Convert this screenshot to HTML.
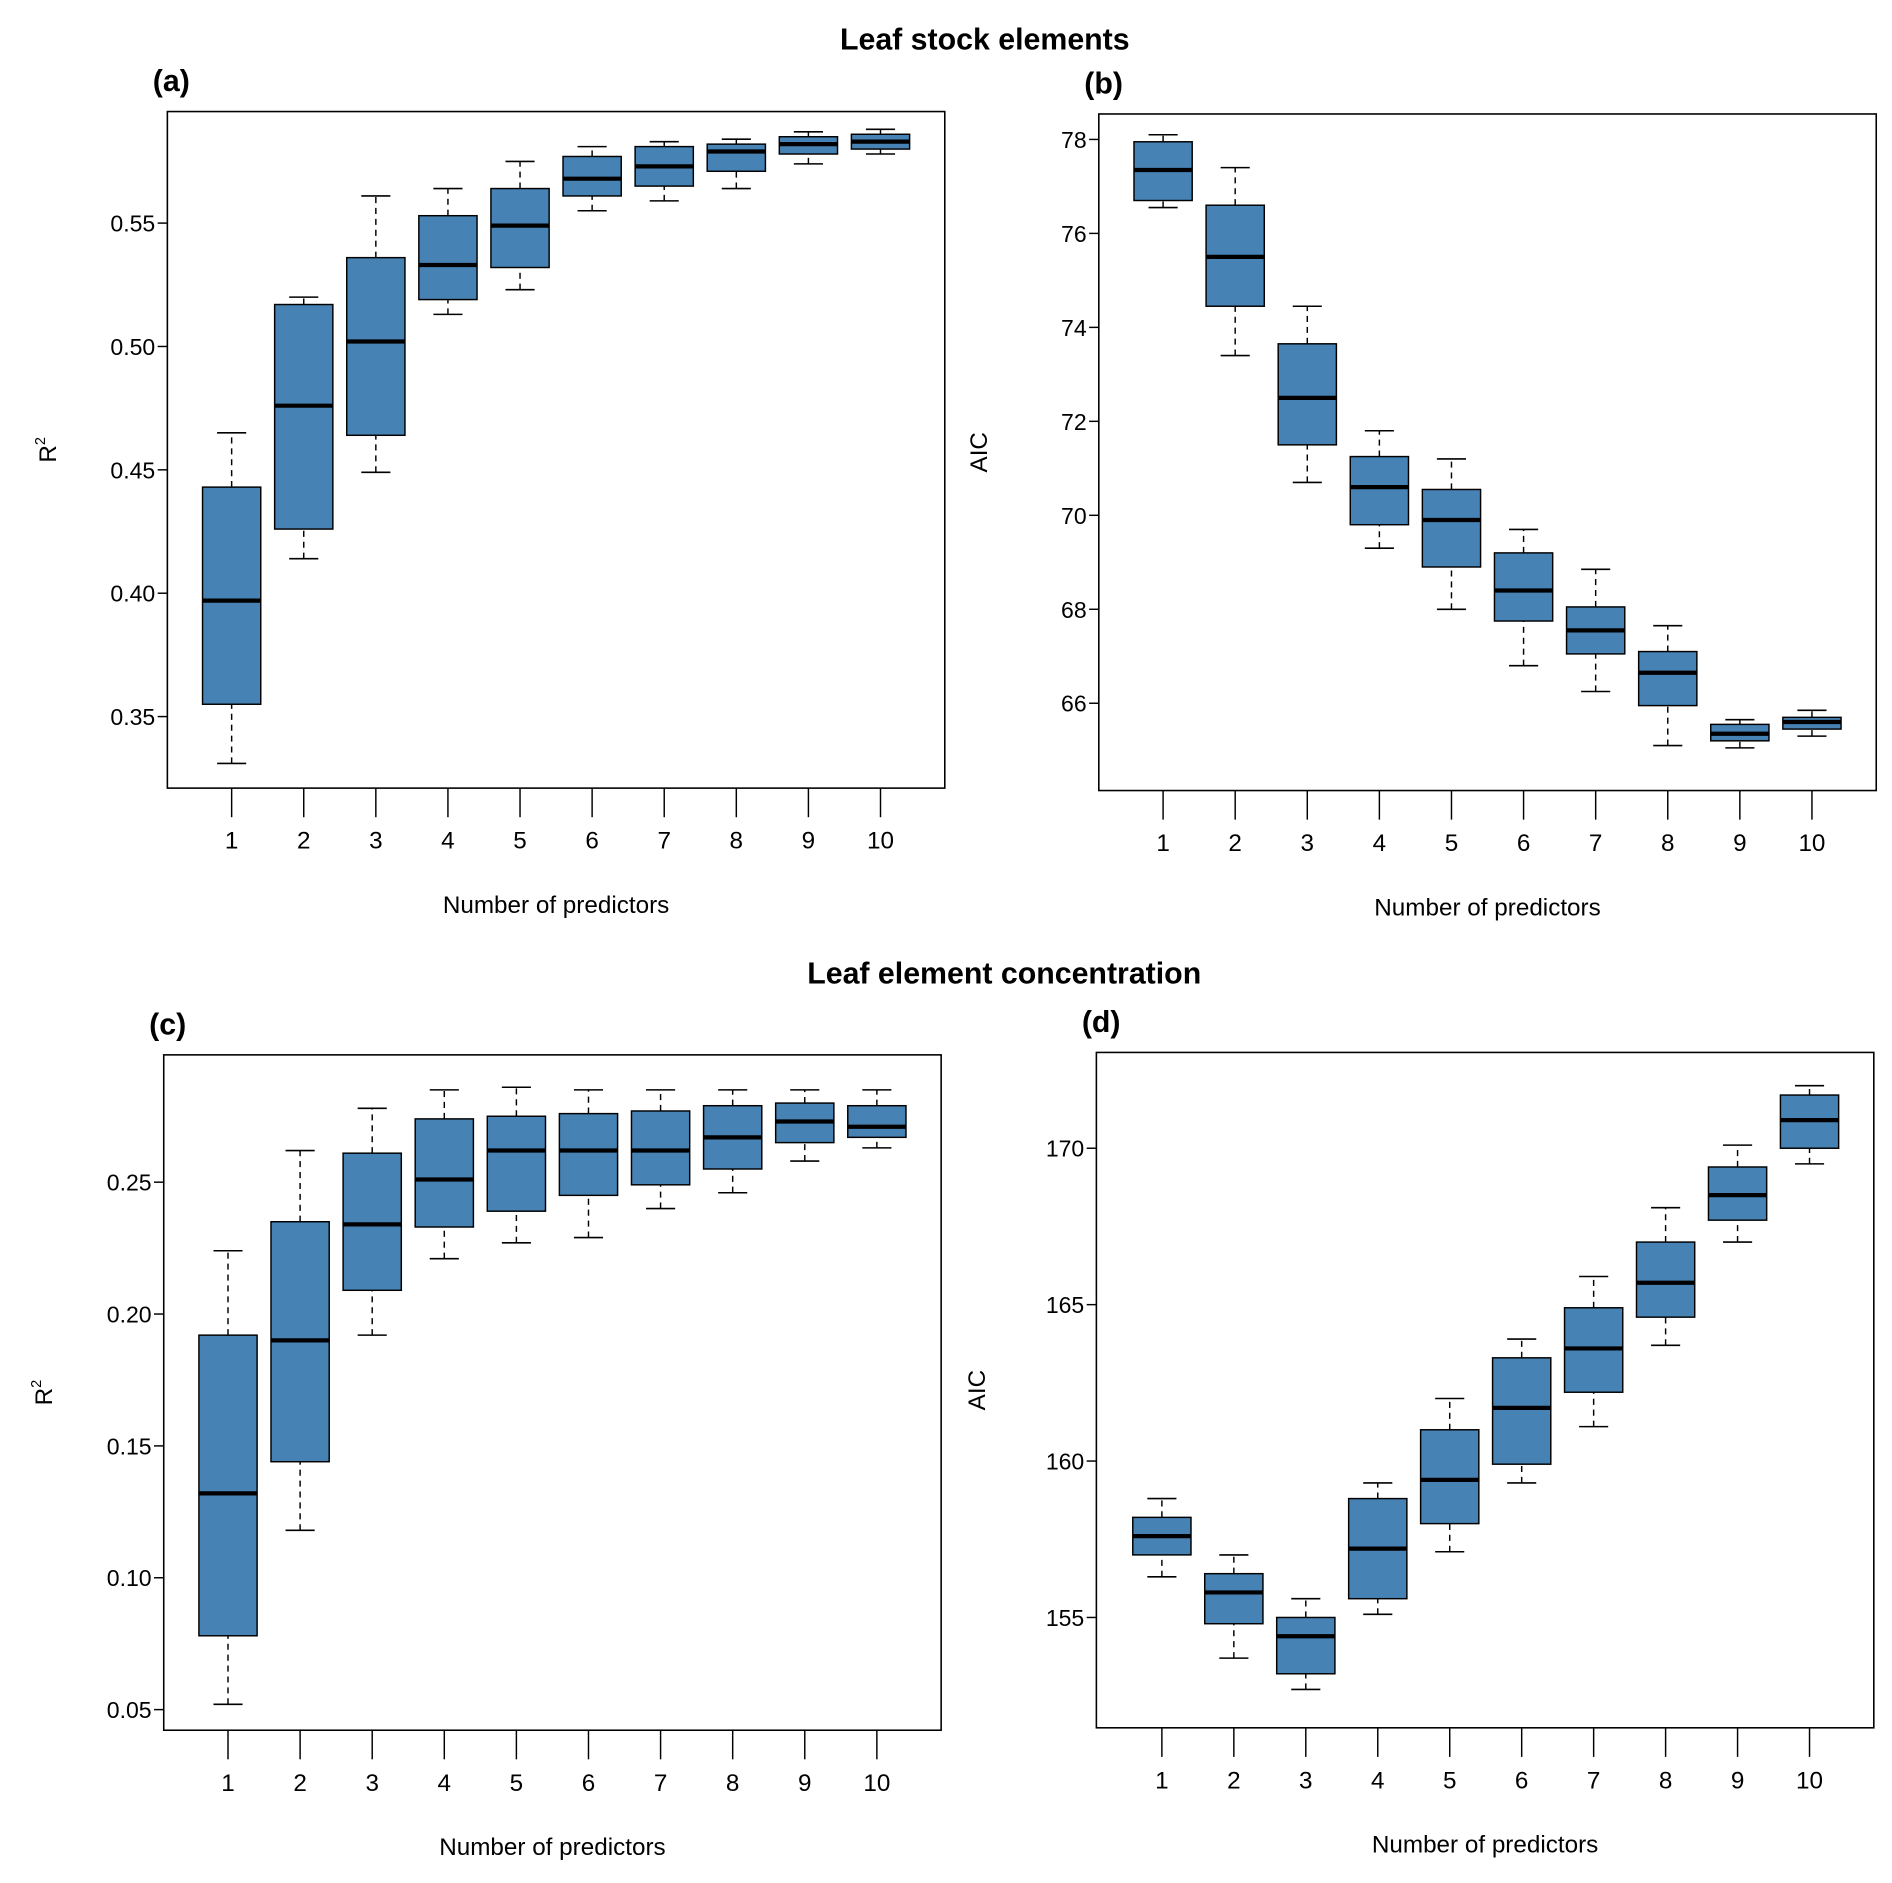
<!DOCTYPE html>
<html><head><meta charset="utf-8"><style>
html,body{margin:0;padding:0;background:#fff}
svg{display:block}
text{font-family:"Liberation Sans",sans-serif;fill:#000}
</style></head><body>
<svg id="fig" width="1892" height="1883" viewBox="0 0 1560 1553" preserveAspectRatio="none">
<text x="812" y="41" font-size="25" font-weight="bold" text-anchor="middle">Leaf stock elements</text>
<text x="828" y="811" font-size="25" font-weight="bold" text-anchor="middle">Leaf element concentration</text>
</svg>
<script>
const categories=[1,2,3,4,5,6,7,8,9,10];
const aLo=[0.331,0.414,0.449,0.513,0.523,0.555,0.559,0.564,0.574,0.578];
const aQ1=[0.355,0.426,0.464,0.519,0.532,0.561,0.565,0.571,0.578,0.580];
const aMed=[0.397,0.476,0.502,0.533,0.549,0.568,0.573,0.579,0.582,0.583];
const aQ3=[0.443,0.517,0.536,0.553,0.564,0.577,0.581,0.582,0.585,0.586];
const aHi=[0.465,0.520,0.561,0.564,0.575,0.581,0.583,0.584,0.587,0.588];
const aTicks=[0.35,0.40,0.45,0.50,0.55];
const bLo=[76.55,73.4,70.7,69.3,68.0,66.8,66.25,65.1,65.05,65.3];
const bQ1=[76.7,74.45,71.5,69.8,68.9,67.75,67.05,65.95,65.2,65.45];
const bMed=[77.35,75.5,72.5,70.6,69.9,68.4,67.55,66.65,65.35,65.6];
const bQ3=[77.95,76.6,73.65,71.25,70.55,69.2,68.05,67.1,65.55,65.7];
const bHi=[78.1,77.4,74.45,71.8,71.2,69.7,68.85,67.65,65.65,65.85];
const bTicks=[66,68,70,72,74,76,78];
const cLo=[0.052,0.118,0.192,0.221,0.227,0.229,0.240,0.246,0.258,0.263];
const cQ1=[0.078,0.144,0.209,0.233,0.239,0.245,0.249,0.255,0.265,0.267];
const cMed=[0.132,0.190,0.234,0.251,0.262,0.262,0.262,0.267,0.273,0.271];
const cQ3=[0.192,0.235,0.261,0.274,0.275,0.276,0.277,0.279,0.280,0.279];
const cHi=[0.224,0.262,0.278,0.285,0.286,0.285,0.285,0.285,0.285,0.285];
const cTicks=[0.05,0.10,0.15,0.20,0.25];
const dLo=[156.3,153.7,152.7,155.1,157.1,159.3,161.1,163.7,167.0,169.5];
const dQ1=[157.0,154.8,153.2,155.6,158.0,159.9,162.2,164.6,167.7,170.0];
const dMed=[157.6,155.8,154.4,157.2,159.4,161.7,163.6,165.7,168.5,170.9];
const dQ3=[158.2,156.4,155.0,158.8,161.0,163.3,164.9,167.0,169.4,171.7];
const dHi=[158.8,157.0,155.6,159.3,162.0,163.9,165.9,168.1,170.1,172.0];
const dTicks=[155,160,165,170];

const NS="http://www.w3.org/2000/svg";
const svg=document.getElementById('fig');
function mk(tag,attrs,parent){const e=document.createElementNS(NS,tag);for(const k in attrs)e.setAttribute(k,attrs[k]);(parent||svg).appendChild(e);return e;}

function panel(o){
  const g=mk('g',{});
  
  
  const y=v=>o.y0+(v-o.v0)*(o.y1-o.y0)/(o.v1-o.v0);
  const x=i=>o.xc0+(i-1)*(o.xc1-o.xc0)/9;
  const fr=mk('rect',{x:o.L,y:o.T,width:o.R-o.L,height:o.B-o.T,fill:'none',stroke:'#000','stroke-width':1.3},g);
  
  
  const lab=mk('text',{x:o.L-12,y:o.T-17,'font-size':25,'font-weight':'bold'},g);lab.textContent='('+o.id+')';
  
  
  o.ticks.forEach(t=>{
    const ty=y(t);
    mk('line',{x1:o.L-8,x2:o.L,y1:ty,y2:ty,stroke:'#000','stroke-width':1.2},g);
    const tx=mk('text',{x:o.L-10,y:ty+7,'font-size':19,'text-anchor':'end'},g);
    tx.textContent=o.fmt(t);
    
    
  });
  categories.forEach((c,i)=>{
    const cx=x(c);
    mk('line',{x1:cx,x2:cx,y1:o.B,y2:o.B+24,stroke:'#000','stroke-width':1.2},g);
    const tx=mk('text',{x:cx,y:o.B+50,'font-size':20,'text-anchor':'middle'},g);
    tx.textContent=c;
    
    
    const bg=mk('g',{},g);
    
    
    const hw=24;
    mk('line',{x1:cx,x2:cx,y1:y(o.lo[i]),y2:y(o.q1[i]),stroke:'#000','stroke-width':1.2,'stroke-dasharray':'5,4'},bg);
    mk('line',{x1:cx,x2:cx,y1:y(o.q3[i]),y2:y(o.hi[i]),stroke:'#000','stroke-width':1.2,'stroke-dasharray':'5,4'},bg);
    mk('line',{x1:cx-12,x2:cx+12,y1:y(o.lo[i]),y2:y(o.lo[i]),stroke:'#000','stroke-width':1.3},bg);
    mk('line',{x1:cx-12,x2:cx+12,y1:y(o.hi[i]),y2:y(o.hi[i]),stroke:'#000','stroke-width':1.3},bg);
    const yt=Math.min(y(o.q1[i]),y(o.q3[i])),yb=Math.max(y(o.q1[i]),y(o.q3[i]));
    mk('rect',{x:cx-hw,y:yt,width:2*hw,height:yb-yt,fill:'#4682b4',stroke:'#000','stroke-width':1.2},bg);
    mk('line',{x1:cx-hw,x2:cx+hw,y1:y(o.med[i]),y2:y(o.med[i]),stroke:'#000','stroke-width':3.5},bg);
  });
  const xl=mk('text',{x:(o.L+o.R)/2,y:o.B+103,'font-size':20,'text-anchor':'middle'},g);
  xl.textContent='Number of predictors';
  
  
  const yl=mk('text',{x:0,y:0,'font-size':20,'text-anchor':'middle',transform:`translate(${o.L-92},${(o.T+o.B)/2}) rotate(-90)`},g);
  if(o.r2){yl.textContent='R';const s=mk('tspan',{'font-size':12,dy:-9},yl);s.textContent='2';}
  else yl.textContent='AIC';
  
  
}
const f2=t=>t.toFixed(2), f0=t=>String(t);
panel({id:'a',L:138,R:779,T:92,B:650,v0:0.35,y0:591,v1:0.55,y1:184,xc0:191,xc1:726,ticks:aTicks,fmt:f2,lo:aLo,q1:aQ1,med:aMed,q3:aQ3,hi:aHi,r2:true});
panel({id:'b',L:906,R:1547,T:94,B:652,v0:66,y0:580,v1:78,y1:115,xc0:959,xc1:1494,ticks:bTicks,fmt:f0,lo:bLo,q1:bQ1,med:bMed,q3:bQ3,hi:bHi,r2:false});
panel({id:'c',L:135,R:776,T:870,B:1427,v0:0.05,y0:1410,v1:0.25,y1:975,xc0:188,xc1:723,ticks:cTicks,fmt:f2,lo:cLo,q1:cQ1,med:cMed,q3:cQ3,hi:cHi,r2:true});
panel({id:'d',L:904,R:1545,T:868,B:1425,v0:155,y0:1334,v1:170,y1:947,xc0:958,xc1:1492,ticks:dTicks,fmt:f0,lo:dLo,q1:dQ1,med:dMed,q3:dQ3,hi:dHi,r2:false});
</script>
</body></html>
